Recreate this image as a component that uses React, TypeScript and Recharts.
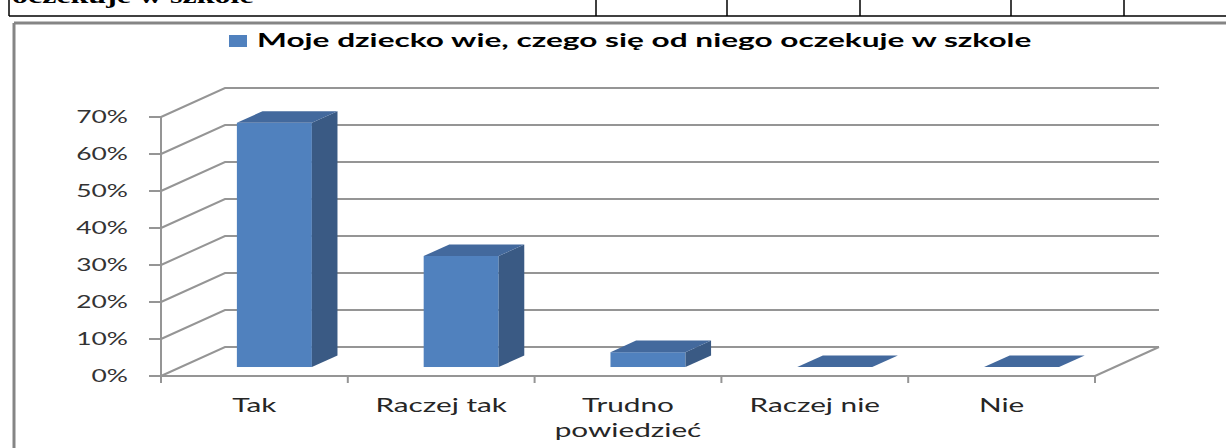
import { Bar, BarChart, CartesianGrid, Customized, XAxis, YAxis } from "recharts";

const categories = ["Tak", "Raczej tak", "Trudno powiedzieć", "Raczej nie", "Nie"];
const shares = [66, 30, 4, 0, 0];
const yTicks = [0, 10, 20, 30, 40, 50, 60, 70];
const seriesName = "Moje dziecko wie, czego się od niego oczekuje w szkole";
const headerText = "oczekuje w szkole";

const data = categories.map((name, i) => ({ name, value: shares[i] }));

// layout
const W = 1226;
const H = 448;
const PLOT_LEFT = 161;
const PLOT_RIGHT = 1095;
const PLOT_TOP = 117;
const PLOT_BOTTOM = 376;
const Y_AXIS_W = 80;
const X_AXIS_H = 60;
const DX = 64; // depth of the 3d box
const DY = 29;
const BAR_FRONT = 0.31;
const BAR_BACK = 0.71;
const SX = 1.6; // the source picture is stretched sideways
const TITLE_SX = 1.7;
const FONT = "Lato, 'DejaVu Sans', sans-serif";
const GRID = "#959595";
const FRONT = "#5081BE";
const SIDE = "#3A5A84";
const TOP = "#43699D";
const HEADER_COLS = [596, 727, 860, 1011, 1124];

const Bar3D = (props: any) => {
  const { x, y, width, height } = props;
  const h = Math.max(0, height || 0);
  const left = x + DX * BAR_FRONT;
  const right = left + width;
  const top = y - DY * BAR_FRONT;
  const bx = DX * (BAR_BACK - BAR_FRONT);
  const by = DY * (BAR_BACK - BAR_FRONT);
  return (
    <g>
      {h > 0.5 && <rect x={left} y={top} width={width} height={h} fill={FRONT} />}
      {h > 0.5 && (
        <polygon
          points={`${right},${top} ${right + bx},${top - by} ${right + bx},${top + h - by} ${right},${top + h}`}
          fill={SIDE}
        />
      )}
      <polygon
        points={`${left},${top} ${right},${top} ${right + bx},${top - by} ${left + bx},${top - by}`}
        fill={TOP}
      />
    </g>
  );
};

const wallLine = (props: any) => {
  const { x1, y1, x2 } = props;
  return (
    <polyline
      key={`wall-${y1}`}
      points={`${x1},${y1} ${x1 + DX},${y1 - DY} ${x2 + DX},${y1 - DY}`}
      fill="none"
      stroke={GRID}
      strokeWidth={2}
    />
  );
};

const PercentTick = (props: any) => {
  const { x, y, payload } = props;
  return (
    <g transform={`translate(${x} ${y}) scale(${SX} 1)`}>
      <text textAnchor="end" dy="0.36em" fontFamily={FONT} fontSize={16.5} fill="#333">
        {`${payload.value}%`}
      </text>
    </g>
  );
};

const CategoryTick = (props: any) => {
  const { x, y, payload, index, visibleTicksCount, width } = props;
  const count = visibleTicksCount || categories.length;
  const band = (Number(width) || PLOT_RIGHT - PLOT_LEFT) / count;
  const label = String(payload.value);
  const lines = label.length > 12 ? label.split(" ") : [label];
  const left = x - band / 2;
  const right = x + band / 2;
  return (
    <g>
      <line x1={left} y1={y} x2={left} y2={y + 7} stroke={GRID} strokeWidth={2} />
      {index === count - 1 && (
        <>
          <line x1={right} y1={y} x2={right} y2={y + 7} stroke={GRID} strokeWidth={2} />
          <line x1={right} y1={y} x2={right + DX} y2={y - DY} stroke={GRID} strokeWidth={2} />
        </>
      )}
      <g transform={`translate(${x} ${y + 36}) scale(${SX} 1)`}>
        <text textAnchor="middle" fontFamily={FONT} fontSize={18.6} fill="#262626">
          {lines.map((l, i) => (
            <tspan key={l} x={0} dy={i === 0 ? 0 : 25}>
              {l}
            </tspan>
          ))}
        </text>
      </g>
    </g>
  );
};

const LegendTitle = () => (
  <g>
    <rect x={229} y={35} width={18} height={12} fill={FRONT} />
    <g transform={`translate(257 47) scale(${TITLE_SX} 1)`}>
      <text fontFamily={FONT} fontWeight="bold" fontSize={18.6} fill="#000">
        {seriesName}
      </text>
    </g>
  </g>
);

const PageFrame = () => (
  <svg width={W} height={H} style={{ position: "absolute", left: 0, top: 0 }}>
    <g transform={`translate(12 3) scale(${SX} 1)`}>
      <text fontFamily="'Liberation Serif', serif" fontWeight="bold" fontSize={20} fill="#000">
        {headerText}
      </text>
    </g>
    <line x1={9} y1={0} x2={9} y2={16} stroke="#000" strokeWidth={1.5} />
    {HEADER_COLS.map((cx) => (
      <line key={cx} x1={cx} y1={0} x2={cx} y2={16} stroke="#000" strokeWidth={1.5} />
    ))}
    <line x1={9} y1={16} x2={W} y2={16} stroke="#000" strokeWidth={1.5} />
    <line x1={14} y1={23} x2={W} y2={23} stroke="#858585" strokeWidth={3} />
    <line x1={14} y1={23} x2={14} y2={H} stroke="#858585" strokeWidth={3} />
  </svg>
);

export default function App() {
  return (
    <div
      style={{
        position: "absolute",
        left: 0,
        top: 0,
        width: W,
        height: H,
        overflow: "hidden",
        background: "#fff",
      }}
    >
      <PageFrame />
      <div style={{ position: "absolute", left: 0, top: 0 }}>
        <BarChart
          width={W}
          height={H}
          data={data}
          barCategoryGap="30%"
          margin={{
            top: PLOT_TOP,
            left: PLOT_LEFT - Y_AXIS_W,
            right: W - PLOT_RIGHT,
            bottom: H - PLOT_BOTTOM - X_AXIS_H,
          }}
        >
          <CartesianGrid vertical={false} horizontal={wallLine} />
          <XAxis
            dataKey="name"
            height={X_AXIS_H}
            interval={0}
            tickLine={false}
            tickSize={0}
            tickMargin={0}
            axisLine={{ stroke: GRID, strokeWidth: 2 }}
            tick={CategoryTick}
          />
          <YAxis
            width={Y_AXIS_W}
            domain={[0, 70]}
            ticks={yTicks}
            interval={0}
            tickSize={12}
            tickMargin={21}
            axisLine={{ stroke: GRID, strokeWidth: 2 }}
            tickLine={{ stroke: GRID, strokeWidth: 2 }}
            tick={PercentTick}
          />
          <Bar dataKey="value" name={seriesName} shape={Bar3D} isAnimationActive={false} />
          <Customized component={LegendTitle} />
        </BarChart>
      </div>
    </div>
  );
}
